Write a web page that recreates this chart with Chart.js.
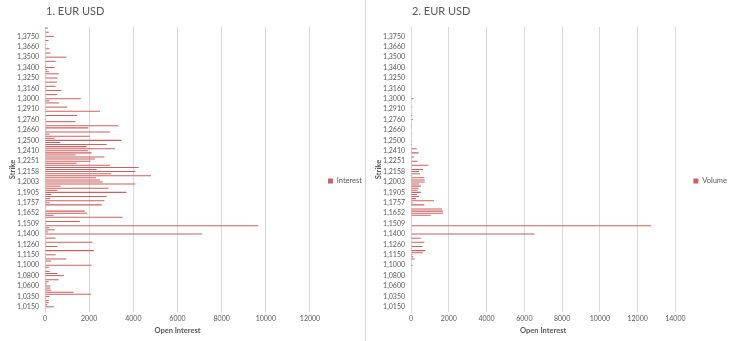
<!DOCTYPE html>
<html>
<head>
<meta charset="utf-8">
<script src="https://cdn.jsdelivr.net/npm/chart.js@4.4.0/dist/chart.umd.min.js"></script>
<style>
  body { margin: 0; background: #fff; }
  #wrap { position: relative; width: 730px; height: 341px; font-family: Lato, "Open Sans", sans-serif; }
  .panel { position: absolute; top: 0; height: 341px; }
  #p1 { left: 0; width: 365px; }
  #p2 { left: 365px; width: 365px; border-left: 1px solid #d9d9d9; }
  .ttl { position: absolute; left: 46px; top: 4px; font-size: 11px; color: #595959; }
  canvas { position: absolute; left: 0; top: 0; }
</style>
</head>
<body>
<div id="wrap">
  <div class="panel" id="p1"><canvas id="c1" width="365" height="341"></canvas><div class="ttl">1. EUR USD</div></div>
  <div class="panel" id="p2"><canvas id="c2" width="364" height="341"></canvas><div class="ttl">2. EUR USD</div></div>
</div>
<script>
// Strikes, von oben nach unten (wie im Original-Diagramm)
const strikes = [
  '1,3850','1,3820','1,3800','1,3780','1,3750','1,3730','1,3710','1,3700','1,3680','1,3660',
  '1,3630','1,3600','1,3570','1,3550','1,3500','1,3480','1,3460','1,3450','1,3420','1,3400',
  '1,3380','1,3350','1,3320','1,3300','1,3250','1,3230','1,3210','1,3200','1,3180','1,3160',
  '1,3130','1,3100','1,3060','1,3050','1,3000','1,2980','1,2960','1,2950','1,2930','1,2910',
  '1,2880','1,2850','1,2810','1,2800','1,2760','1,2740','1,2720','1,2700','1,2680','1,2660',
  '1,2630','1,2600','1,2550','1,2530','1,2500','1,2480','1,2460','1,2450','1,2430','1,2410',
  '1,2380','1,2350','1,2310','1,2300','1,2251','1,2240','1,2220','1,2200','1,2180','1,2158',
  '1,2120','1,2100','1,2050','1,2030','1,2003','1,1990','1,1960','1,1950','1,1920','1,1905',
  '1,1880','1,1850','1,1810','1,1800','1,1757','1,1740','1,1720','1,1700','1,1680','1,1652',
  '1,1630','1,1600','1,1560','1,1550','1,1509','1,1500','1,1480','1,1450','1,1420','1,1400',
  '1,1380','1,1350','1,1310','1,1300','1,1260','1,1250','1,1220','1,1200','1,1180','1,1150',
  '1,1120','1,1100','1,1060','1,1050','1,1000','1,0980','1,0950','1,0900','1,0850','1,0800',
  '1,0760','1,0750','1,0700','1,0650','1,0600','1,0550','1,0500','1,0450','1,0400','1,0350',
  '1,0300','1,0250','1,0200','1,0180','1,0150','1,0100','1,0050'
];

// Open Interest je Strike
const interest = [
  130, 20, 170, 30, 400, 20, 160, 20, 50, 30,
  200, 20, 250, 30, 970, 30, 480, 20, 40, 430,
  100, 180, 630, 30, 560, 30, 540, 30, 480, 50,
  740, 30, 540, 30, 1620, 200, 630, 30, 1010, 50,
  2490, 30, 1450, 30, 50, 1380, 40, 3320, 1960, 50,
  2940, 200, 2030, 430, 3470, 690, 2790, 1880, 3170, 1960,
  2110, 1390, 2690, 2260, 2060, 1420, 2940, 4240, 2340, 4090,
  2990, 4800, 2310, 2490, 2610, 4090, 710, 2870, 560, 3680,
  280, 2790, 240, 2690, 210, 2570, 50, 30, 1800, 1910,
  390, 3510, 30, 1580, 50, 9660, 200, 430, 130, 7120,
  50, 480, 30, 2150, 50, 560, 20, 2210, 30, 480,
  40, 970, 280, 30, 2110, 170, 30, 210, 560, 860,
  30, 620, 170, 80, 250, 240, 280, 1300, 2080, 200,
  50, 170, 170, 100, 400, 30, 20
];

// Volumen je Strike
const volume = [
  0, 0, 0, 0, 0, 0, 0, 0, 0, 0,
  0, 0, 0, 0, 0, 0, 0, 0, 0, 0,
  0, 30, 0, 0, 0, 0, 0, 0, 0, 0,
  0, 0, 30, 0, 140, 0, 0, 0, 60, 0,
  0, 0, 60, 0, 90, 20, 0, 50, 20, 30,
  20, 40, 20, 30, 40, 20, 50, 30, 300, 40,
  400, 30, 170, 40, 350, 50, 920, 40, 640, 430,
  470, 60, 700, 730, 730, 430, 520, 400, 350, 520,
  310, 430, 260, 1220, 90, 700, 30, 1650, 1690, 1700,
  1040, 20, 20, 30, 20, 12720, 30, 40, 20, 6550,
  40, 520, 30, 700, 40, 600, 50, 750, 620, 80,
  120, 200, 40, 30, 90, 40, 0, 0, 0, 0,
  0, 0, 0, 0, 0, 0, 0, 0, 0, 0,
  0, 0, 0, 0, 0, 0, 0
];

const grau = '#595959';
const rot = '#cc5f5f';

// Diagramm für ein Panel erstellen
function makeChart(id, seriesLabel, values, maxX) {
  const ctx = document.getElementById(id).getContext('2d');
  return new Chart(ctx, {
    type: 'bar',
    data: {
      labels: strikes,
      datasets: [{
        label: seriesLabel,
        data: values,
        backgroundColor: rot,
        categoryPercentage: 0.5,
        barPercentage: 1
      }]
    },
    options: {
      indexAxis: 'y',
      responsive: false,
      animation: false,
      devicePixelRatio: 1,
      layout: { padding: { top: 27, bottom: 6, left: 0, right: -7 } },
      plugins: {
        legend: {
          position: 'right',
          labels: { boxWidth: 5, boxHeight: 5, color: grau, font: { family: 'Lato', size: 7.5 }, padding: 18 }
        },
        tooltip: { enabled: false }
      },
      scales: {
        x: {
          min: 0,
          max: maxX,
          ticks: { stepSize: 2000, color: grau, font: { family: 'Lato', size: 7 }, padding: 3, callback: v => String(v) },
          grid: { color: '#d9d9d9', drawTicks: false },
          border: { display: false },
          title: { display: true, text: 'Open Interest', color: grau, font: { family: 'Lato', size: 7.5, weight: 'bold' }, padding: { top: 2, bottom: 0 } },
          afterFit: s => { s.height = 23; }
        },
        y: {
          ticks: {
            autoSkip: false,
            color: grau,
            font: { family: 'Lato', size: 7 },
            padding: 6,
            callback: (v, i) => (i % 5 === 4 ? strikes[i] : '')
          },
          grid: { display: false, drawTicks: false },
          border: { display: true, color: '#d9d9d9' },
          title: { display: true, text: 'Strike', color: grau, font: { family: 'Lato', size: 7.5, weight: 'bold' }, padding: { top: 8, bottom: 0 } },
          afterFit: s => { s.width = 45; }
        }
      }
    }
  });
}

makeChart('c1', 'Interest', interest, 12000);
makeChart('c2', 'Volume', volume, 14000);
</script>
</body>
</html>
